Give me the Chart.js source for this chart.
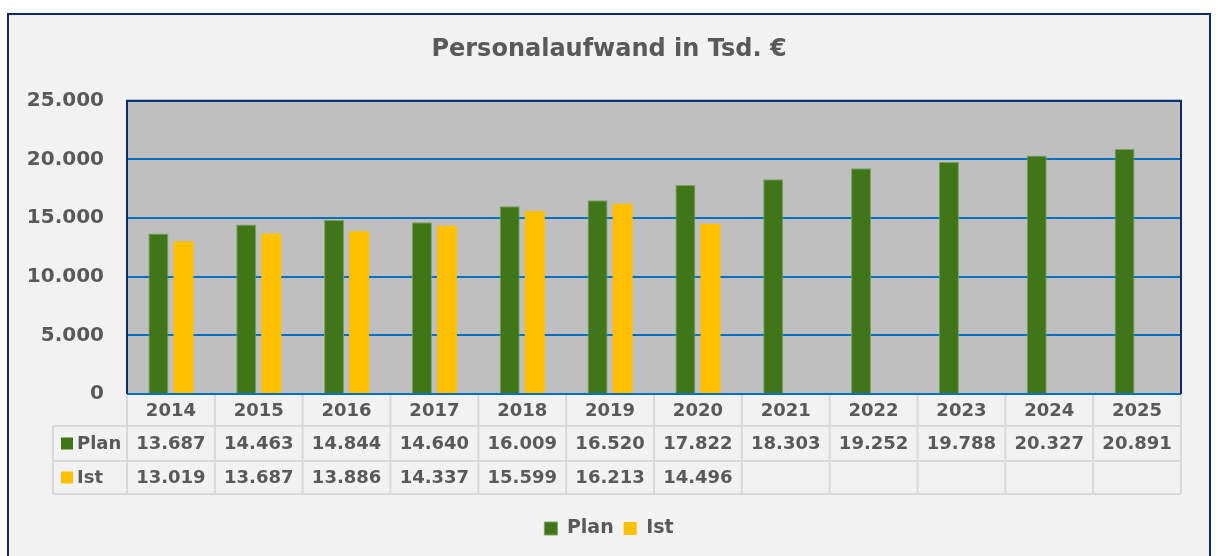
<!DOCTYPE html>
<html>
<head>
<meta charset="utf-8">
<script src="https://cdn.jsdelivr.net/npm/chart.js@4/dist/chart.umd.min.js"></script>
<style>
  body { margin: 0; background: #fff; }
  #rahmen { position: absolute; left: 7px; top: 13px; width: 1200px; height: 560px;
            border: 2px solid #0E2A6B; background: #F2F2F2; }
  #wrap { position: absolute; left: 0; top: 0; width: 1218px; height: 556px; }
</style>
</head>
<body>
<div id="rahmen"></div>
<div id="wrap"><canvas id="grafico" width="1218" height="556"></canvas></div>
<script>
var jahre = ["2014","2015","2016","2017","2018","2019","2020","2021","2022","2023","2024","2025"];
var plan = [13687, 14463, 14844, 14640, 16009, 16520, 17822, 18303, 19252, 19788, 20327, 20891];
var ist = [13019, 13687, 13886, 14337, 15599, 16213, 14496, null, null, null, null, null];
var yTicks = [0, 5000, 10000, 15000, 20000, 25000];

var grau = "#595959";
var schrift = "'DejaVu Sans', sans-serif";

function zahl(v) {
  if (v === null) return "";
  return v.toString().replace(/\B(?=(\d{3})+(?!\d))/g, ".");
}

// Hintergrund der Zeichenfläche + Datentabelle
var tabelle = {
  id: "tabelle",
  afterLayout: function(chart) {
    // Beschriftung der y-Achse nicht abschneiden
    chart.scales.y.left = 0;
  },
  beforeDraw: function(chart) {
    var ctx = chart.ctx, a = chart.chartArea;
    ctx.save();
    ctx.fillStyle = "#BFBFBF";
    ctx.fillRect(a.left, a.top, a.right - a.left, a.bottom - a.top);
    ctx.restore();
  },
  afterDraw: function(chart) {
    var ctx = chart.ctx, a = chart.chartArea, x = chart.scales.x;
    var n = jahre.length;
    var w = (a.right - a.left) / n;
    var r0 = a.bottom, r1 = r0 + 32, r2 = r1 + 35, r3 = r2 + 33;
    var links = 53;
    ctx.save();
    // Rahmen der Zeichenfläche
    ctx.strokeStyle = "#0E2A6B";
    ctx.lineWidth = 2;
    ctx.beginPath();
    ctx.moveTo(a.left, a.bottom);
    ctx.lineTo(a.left, a.top);
    ctx.lineTo(a.right, a.top);
    ctx.lineTo(a.right, a.bottom);
    ctx.stroke();
    // Tabellengitter
    ctx.strokeStyle = "#D9D9D9";
    ctx.lineWidth = 2;
    ctx.beginPath();
    ctx.moveTo(links, r1); ctx.lineTo(a.right, r1);
    ctx.moveTo(links, r2); ctx.lineTo(a.right, r2);
    ctx.moveTo(links, r3); ctx.lineTo(a.right, r3);
    ctx.moveTo(links, r1); ctx.lineTo(links, r3);
    for (var i = 0; i <= n; i++) {
      var gx = a.left + i * w;
      ctx.moveTo(gx, r0 + 1);
      ctx.lineTo(gx, r3);
    }
    ctx.stroke();
    // Texte
    ctx.fillStyle = grau;
    ctx.font = "bold 18px " + schrift;
    ctx.textAlign = "center";
    ctx.textBaseline = "middle";
    for (var j = 0; j < n; j++) {
      var cx = x.getPixelForValue(j);
      ctx.fillText(jahre[j], cx, (r0 + r1) / 2 + 1);
      ctx.fillText(zahl(plan[j]), cx, (r1 + r2) / 2 + 1);
      ctx.fillText(zahl(ist[j]), cx, (r2 + r3) / 2 + 1);
    }
    ctx.textAlign = "left";
    ctx.fillStyle = "#3F7618";
    ctx.fillRect(61, (r1 + r2) / 2 - 6, 12, 12);
    ctx.fillStyle = "#FFC000";
    ctx.fillRect(61, (r2 + r3) / 2 - 6, 12, 12);
    ctx.fillStyle = grau;
    ctx.fillText("Plan", 77, (r1 + r2) / 2 + 1);
    ctx.fillText("Ist", 77, (r2 + r3) / 2 + 1);
    ctx.restore();
  }
};

var grafico = new Chart(document.getElementById("grafico").getContext("2d"), {
  type: "bar",
  data: {
    labels: jahre,
    datasets: [{
      label: "Plan",
      data: plan,
      backgroundColor: "#3F7618",
      borderColor: "#7DA060",
      borderWidth: 1
    }, {
      label: "Ist",
      data: ist,
      backgroundColor: "#FFC000",
      borderColor: "#FFC000",
      borderWidth: 0
    }]
  },
  plugins: [tabelle],
  options: {
    responsive: false,
    animation: false,
    devicePixelRatio: 1,
    categoryPercentage: 0.57,
    barPercentage: 0.8,
    layout: { padding: { left: 37, right: 37, top: 0, bottom: 8 } },
    scales: {
      x: {
        grid: { display: false },
        border: { display: false },
        ticks: { display: false },
        afterFit: function(s) { s.height = 115; }
      },
      y: {
        min: 0, max: 25000,
        afterBuildTicks: function(s) { s.ticks = yTicks.map(function(v) { return { value: v }; }); },
        afterFit: function(s) { s.width = 90; },
        grid: { color: "#0070C0", lineWidth: 2, drawTicks: false },
        border: { display: false },
        ticks: {
          padding: 23,
          color: grau,
          font: { family: schrift, size: 20, weight: "bold" },
          callback: function(v) { return zahl(v); }
        }
      }
    },
    plugins: {
      title: {
        display: true,
        text: "Personalaufwand in Tsd. €",
        color: grau,
        font: { family: schrift, size: 24, weight: "bold" },
        padding: { top: 35, bottom: 37 }
      },
      legend: {
        position: "bottom",
        labels: {
          color: grau,
          boxWidth: 13,
          boxHeight: 13,
          padding: 10,
          font: { family: schrift, size: 19, weight: "bold" }
        }
      },
      tooltip: { enabled: false }
    }
  }
});
</script>
</body>
</html>
